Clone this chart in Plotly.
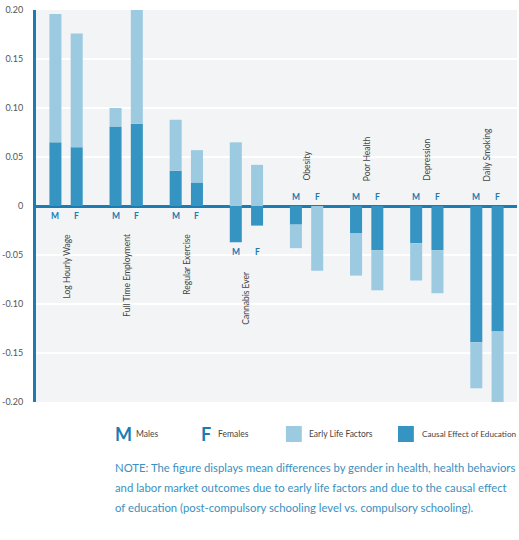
import plotly.graph_objects as go

categories = ["Log Hourly Wage", "Full Time Employment", "Regular Exercise", "Cannabis Ever",
              "Obesity", "Poor Health", "Depression", "Daily Smoking"]
causal_m = [0.065, 0.081, 0.036, -0.037, -0.019, -0.028, -0.038, -0.139]
early_m = [0.131, 0.019, 0.052, 0.065, -0.024, -0.043, -0.038, -0.047]
causal_f = [0.060, 0.084, 0.024, -0.020, 0.0, -0.045, -0.045, -0.128]
early_f = [0.116, 0.118, 0.033, 0.042, -0.066, -0.041, -0.044, -0.072]
gender_labels = ["M", "F"]
y_ticks = [0.20, 0.15, 0.10, 0.05, 0, -0.05, -0.10, -0.15, -0.20]
y_ticktext = ["0.20", "0.15", "0.10", "0.05", "0", "-0.05", "-0.10", "-0.15", "-0.20"]
note_lines = [
    "NOTE: The figure displays mean differences by gender in health, health behaviors",
    "and labor market outcomes due to early life factors and due to the causal effect",
    "of education (post-compulsory schooling level vs. compulsory schooling).",
]

FONT = "Lato, Roboto, sans-serif"
DARK = "#3594c2"
LIGHT = "#9ccae1"
AXIS = "#1b7bb3"
NOTE = "#3a90c0"
OFF = 0.177
W = 0.2

n = len(categories)
xm = [i - OFF for i in range(n)]
xf = [i + OFF for i in range(n)]

fig = go.Figure()
fig.add_trace(go.Bar(x=xm + xf, y=causal_m + causal_f, width=W, marker_color=DARK,
                     marker_line_width=0, name="Causal Effect of Education", showlegend=False))
fig.add_trace(go.Bar(x=xm + xf, y=early_m + early_f, width=W, marker_color=LIGHT,
                     marker_line_width=0, name="Early Life Factors", showlegend=False))

ann = []
for i, cat in enumerate(categories):
    vals = [(causal_m[i], early_m[i]), (causal_f[i], early_f[i])]
    pos_tot = max(sum(v for v in p if v > 0) for p in vals)
    neg_tot = min(sum(v for v in p if v < 0) for p in vals)
    if pos_tot > 0:
        for g, x in zip(gender_labels, (xm[i], xf[i])):
            ann.append(dict(x=x, y=neg_tot, yshift=-10, text=g, showarrow=False,
                            yanchor="middle", font=dict(family=FONT, size=8.5, color=AXIS, weight="bold")))
        ann.append(dict(x=i, y=neg_tot, yshift=-26, text=cat, textangle=-90, showarrow=False,
                        yanchor="top", font=dict(family=FONT, size=8.5, color="#444")))
    else:
        for g, x in zip(gender_labels, (xm[i], xf[i])):
            ann.append(dict(x=x, y=0, yshift=9, text=g, showarrow=False,
                            yanchor="middle", font=dict(family=FONT, size=8.5, color=AXIS, weight="bold")))
        ann.append(dict(x=i, y=0, yshift=23, text=cat, textangle=-90, showarrow=False,
                        yanchor="bottom", font=dict(family=FONT, size=8.5, color="#444")))

L, R, T, B = 32, 2, 10, 138
PW, PH = 519 - L - R, 540 - T - B


def px(x):
    return (x - L) / PW


def py(y):
    return (540 - B - y) / PH


leg_y = 434
leg_items = [
    (111, "M", 18, AXIS, "bold"),
    (132, "Males", 8.5, "#444", "normal"),
    (197, "F", 18, AXIS, "bold"),
    (215, "Females", 8.5, "#444", "normal"),
    (306, "Early Life Factors", 8.5, "#444", "normal"),
    (420, "Causal Effect of Education", 8.2, "#444", "normal"),
]
for x0, txt, sz, col, wt in leg_items:
    ann.append(dict(x=px(x0), y=py(leg_y), xref="paper", yref="paper", xanchor="left", yanchor="middle",
                    borderpad=0, text=txt, showarrow=False,
                    font=dict(family=FONT, size=sz, color=col, weight=wt)))

for k, line in enumerate(note_lines):
    ann.append(dict(x=px(111), y=py(468 + 19.5 * k), xref="paper", yref="paper", xanchor="left",
                    yanchor="middle", borderpad=0, text=line, showarrow=False,
                    font=dict(family=FONT, size=11.3, color=NOTE)))

shapes = [
    dict(type="rect", xref="paper", yref="paper", x0=px(284), x1=px(300), y0=py(442), y1=py(426),
         fillcolor=LIGHT, line_width=0),
    dict(type="rect", xref="paper", yref="paper", x0=px(397), x1=px(413), y0=py(442), y1=py(426),
         fillcolor=DARK, line_width=0),
]

fig.update_layout(
    width=519, height=540,
    margin=dict(l=L, r=R, t=T, b=B),
    barmode="relative",
    paper_bgcolor="white",
    plot_bgcolor="#f3f4f6",
    annotations=ann,
    shapes=shapes,
    showlegend=False,
    font=dict(family=FONT),
)
fig.update_xaxes(range=[-0.5, n - 0.5], showticklabels=False, showgrid=False, zeroline=False, fixedrange=True)
fig.update_yaxes(range=[-0.2, 0.2], tickvals=y_ticks, ticktext=y_ticktext,
                 showgrid=True, gridcolor="white", gridwidth=1.5,
                 zeroline=True, zerolinecolor=AXIS, zerolinewidth=3,
                 showline=True, linecolor=AXIS, linewidth=3,
                 ticks="", ticklabelstandoff=8, tickfont=dict(family=FONT, size=9, color="#555"))

fig.write_html("out.html")
